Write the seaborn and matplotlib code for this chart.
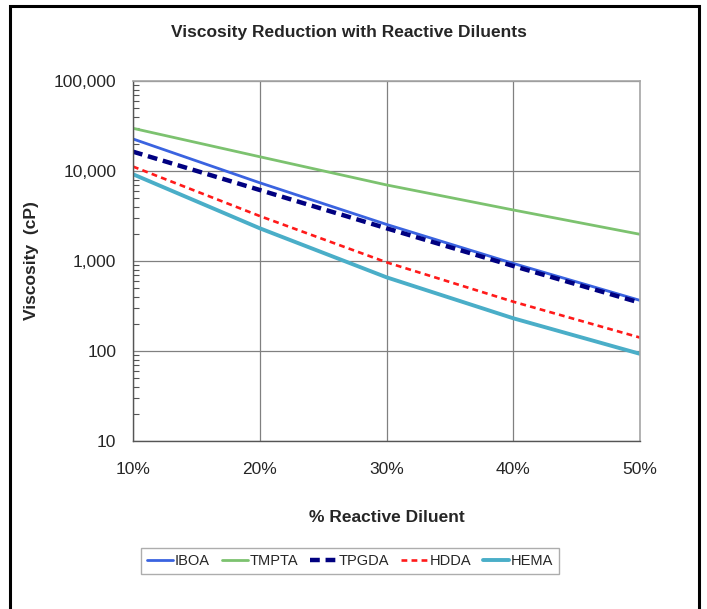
import matplotlib
matplotlib.use("Agg")
import matplotlib.pyplot as plt
import matplotlib.patches as patches
from matplotlib.ticker import FixedLocator, LogLocator, NullFormatter
import seaborn as sns

pct = [10, 20, 30, 40, 50]
iboa = [22700, 7400, 2550, 940, 365]
tmpta = [29800, 14400, 7000, 3690, 1980]
tpgda = [16400, 6150, 2310, 880, 344]
hdda = [11200, 3160, 967, 353, 141]
hema = [9200, 2310, 659, 231, 93]

x_labels = ["10%", "20%", "30%", "40%", "50%"]
y_ticks = [10, 100, 1000, 10000, 100000]
y_labels = ["10", "100", "1,000", "10,000", "100,000"]

sns.set_style("white")
plt.rcParams["font.family"] = ["Liberation Sans", "DejaVu Sans"]

fig = plt.figure(figsize=(7.07, 6.09), dpi=100)
ax = fig.add_axes([133 / 707, 1 - 441 / 609, 507 / 707, 360 / 609])

series = [
    ("IBOA", iboa, "#3a63e0", 2.0, "-"),
    ("TMPTA", tmpta, "#7cc26f", 2.0, "-"),
    ("TPGDA", tpgda, "#000080", 3.2, (0, (2.2, 1.3))),
    ("HDDA", hdda, "#ff1a1a", 1.9, (0, (2.2, 1.6))),
    ("HEMA", hema, "#4aaec8", 2.8, "-"),
]
for name, vals, color, lw, ls in series:
    sns.lineplot(x=pct, y=vals, ax=ax, color=color, lw=lw, linestyle=ls, label=name)

ax.set_yscale("log")
ax.set_xlim(10, 50)
ax.set_ylim(10, 100000)
ax.set_xticks(pct)
ax.set_xticklabels(x_labels)
ax.yaxis.set_major_locator(FixedLocator(y_ticks))
ax.set_yticklabels(y_labels)
ax.yaxis.set_minor_locator(LogLocator(base=10, subs=range(2, 10)))
ax.yaxis.set_minor_formatter(NullFormatter())

ax.grid(True, which="major", color="#808080", lw=0.9)
ax.grid(False, which="minor")
for side in ["top", "right"]:
    ax.spines[side].set_color("#a6a6a6")
    ax.spines[side].set_linewidth(1.2)
for side in ["left", "bottom"]:
    ax.spines[side].set_color("#555555")
    ax.spines[side].set_linewidth(1.0)

ax.tick_params(axis="both", which="major", direction="out", length=4, width=1,
               color="#555555", labelsize=12.5, pad=8)
ax.tick_params(axis="y", which="minor", direction="in", length=4, width=0.8,
               color="#555555", left=True)
ax.tick_params(axis="x", which="major", pad=11)

ax.set_xlabel("% Reactive Diluent", fontsize=12.5, fontweight="bold", labelpad=24)
ax.set_ylabel("Viscosity  (cP)", fontsize=12.5, fontweight="bold")
ax.yaxis.set_label_coords((39 - 133) / 507, 0.5)
fig.text(349 / 707, 1 - 33 / 609, "Viscosity Reduction with Reactive Diluents",
         ha="center", va="center", fontsize=12.5, fontweight="bold")

leg = ax.legend(loc="center", bbox_to_anchor=(350 / 707, 1 - 561 / 609),
                bbox_transform=fig.transFigure, ncol=5, frameon=True,
                fancybox=False, fontsize=10.5, handlelength=1.8,
                handletextpad=0.15, columnspacing=0.8, borderpad=0.4)
leg.get_frame().set_edgecolor("#999999")
leg.get_frame().set_linewidth(1.0)

fig.patches.append(patches.Rectangle((10 / 707, -0.05), 689 / 707, 1.04,
                                     transform=fig.transFigure, fill=False,
                                     edgecolor="black", lw=2.2))

fig.savefig("out.png", dpi=100)
